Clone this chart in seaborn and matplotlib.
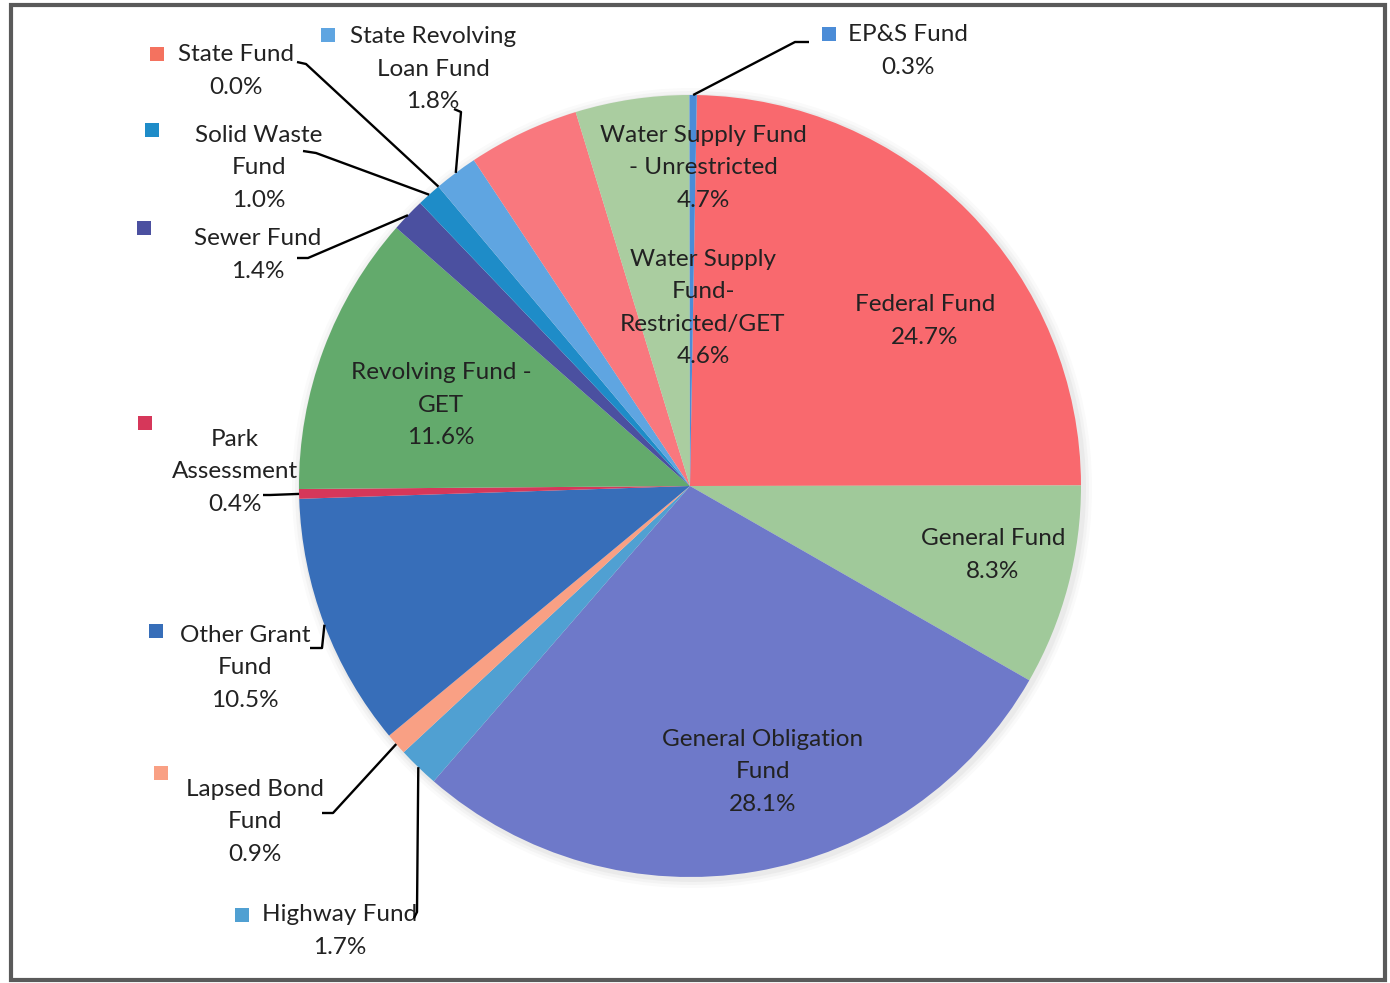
import numpy as np
import matplotlib.pyplot as plt
import seaborn as sns
from matplotlib.patches import Rectangle, Circle

# fund shares (percent), clockwise from 12 o'clock
funds = ["Federal Fund", "General Fund", "General Obligation\nFund", "Highway Fund",
         "Lapsed Bond\nFund", "Other Grant\nFund", "Park\nAssessment",
         "Revolving Fund -\nGET", "Sewer Fund", "Solid Waste\nFund", "State Fund",
         "State Revolving\nLoan Fund", "Water Supply\nFund-\nRestricted/GET",
         "Water Supply Fund\n- Unrestricted", "EP&S Fund"]
shares = [24.7, 8.3, 28.1, 1.7, 0.9, 10.5, 0.4, 11.6, 1.4, 1.0, 0.0, 1.8, 4.6, 4.7, 0.3]
colors = ["#F9696E", "#A0C99A", "#6E79C9", "#50A0D2", "#F9A084", "#376EB9", "#D6375A",
          "#63AA6C", "#4B50A0", "#1E8CC8", "#F4725F", "#5FA5E1", "#F9787E", "#AACDA0",
          "#4B8CD7"]

sns.set_theme(style="white")
plt.rcParams['font.family'] = ['Lato', 'DejaVu Sans']

W, H = 1390, 983
fig = plt.figure(figsize=(W / 100, H / 100), dpi=100)
ax = fig.add_axes([0, 0, 1, 1])
ax.set_xlim(0, W)
ax.set_ylim(0, H)
ax.axis('off')


def Y(y):
    # image rows (top-down) -> data y
    return H - y


cx, cy, r = 690, 486, 391
start = 89

# soft shadow behind the pie
for extra, a in [(9, 0.04), (6, 0.05), (3, 0.07)]:
    ax.add_patch(Circle((cx + 2, Y(cy) - 2), r + extra, color='gray', alpha=a, lw=0))

ax.pie(shares, colors=colors, startangle=start, counterclock=False,
       center=(cx, Y(cy)), radius=r, wedgeprops=dict(linewidth=0))
ax.set_xlim(0, W)
ax.set_ylim(0, H)

labels = [f"{f}\n{s:.1f}%" for f, s in zip(funds, shares)]
txt_kw = dict(ha='center', va='center', fontsize=17.5, linespacing=1.66, color='#222222')

# labels inside the pie
inside = {0: (925, 321), 1: (993, 555), 2: (763, 772), 7: (441, 405),
          12: (703, 308), 13: (703, 168)}
for i, (x, y) in inside.items():
    ax.text(x, Y(y), labels[i], **txt_kw)

# outside labels: text centre, key square, leader start, leader elbow
outside = {
    10: ((236, 71), (157, 54), (297, 62), (306, 64)),
    11: ((433, 69), (328, 35), (454, 109), (461, 112)),
    9: ((259, 168), (152, 130), (303, 151), (316, 153)),
    8: ((258, 255), (144, 228), (297, 258), (308, 258)),
    6: ((235, 472), (145, 423), (263, 495), (270, 495)),
    5: ((245, 668), (156, 631), (310, 648), (322, 648)),
    4: ((255, 822), (161, 773), (322, 813), (333, 813)),
    3: ((340, 931), (242, 915), (414, 918), (417, 912)),
    14: ((908, 51), (829, 34), (809, 42), (795, 42)),
}

frac = np.array(shares) / sum(shares)
cum = np.cumsum(frac)
for i, (tpos, kpos, st, elbow) in outside.items():
    mid = cum[i] - frac[i] / 2
    ang = np.deg2rad(start - 360 * mid)
    px, py = cx + r * np.cos(ang), cy - r * np.sin(ang)
    ax.plot([st[0], elbow[0], px], [Y(st[1]), Y(elbow[1]), Y(py)],
            color='black', lw=1.7, solid_capstyle='butt', zorder=5)
    ax.text(tpos[0], Y(tpos[1]), labels[i], **txt_kw)
    ax.scatter([kpos[0]], [Y(kpos[1])], marker='s', s=100, color=colors[i],
               linewidths=0, zorder=6)

# chart frame
ax.add_patch(Rectangle((11, Y(980)), 1374, 975, fill=False, ec='#5a5a5a', lw=3, zorder=10))

fig.savefig('out.png', dpi=100)
